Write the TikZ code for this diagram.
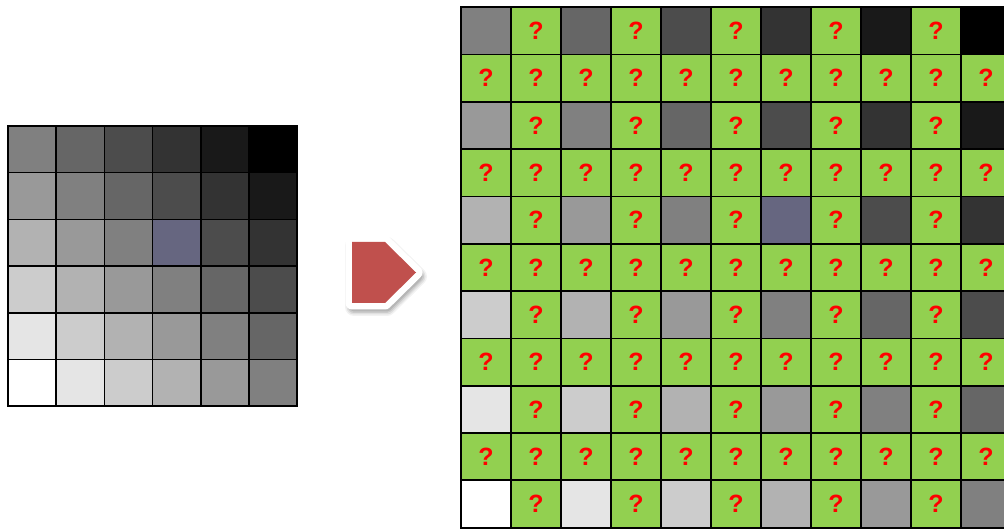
\documentclass[tikz,border=0pt]{standalone}
\usepackage{fontspec}
\setmainfont{Liberation Sans}
\definecolor{cellgreen}{RGB}{146,208,80}
\definecolor{qred}{RGB}{255,0,0}
\definecolor{bluecell}{RGB}{102,102,128}
\definecolor{arrowred}{RGB}{192,80,77}
\tikzset{
  cellL/.style={draw=black, line width=1.6pt, minimum width=48.2pt, minimum height=46.7pt, inner sep=0pt, outer sep=0pt},
  cellR/.style={draw=black, line width=1.8pt, minimum width=50pt, minimum height=47.3pt, inner sep=0pt, outer sep=0pt},
  qcell/.style={cellR, fill=cellgreen, text=qred, font=\bfseries\fontsize{25}{25}\selectfont},
}
\begin{document}
\begin{tikzpicture}[x=1pt,y=-1pt]
\useasboundingbox (0,0) rectangle (1004,529);
\clip (0,0) rectangle (1004,529);
\fill[white] (0,0) rectangle (1004,529);
% left grid
\foreach \r in {0,...,5}{
  \foreach \c in {0,...,5}{
    \pgfmathtruncatemacro\k{50-10*(\r-\c)}
    \ifnum\r=2 \ifnum\c=3
      \node[cellL, fill=bluecell] (L-\r-\c) at ({8+48.2*(\c+0.5)},{126+46.7*(\r+0.5)}) {};
    \else
      \node[cellL, fill=black!\k] (L-\r-\c) at ({8+48.2*(\c+0.5)},{126+46.7*(\r+0.5)}) {};
    \fi\else
      \node[cellL, fill=black!\k] (L-\r-\c) at ({8+48.2*(\c+0.5)},{126+46.7*(\r+0.5)}) {};
    \fi
  }
}
% arrow shape with shadow
\foreach \w/\o in {18/0.05,15/0.07,12/0.09,9/0.1}{
  \fill[black, opacity=\o, line join=round] (354,246) -- (387,246) -- (418,276.5) -- (387,307) -- (354,307) -- cycle;
  \draw[black, opacity=\o, line width=\w pt, line join=round] (354,246) -- (387,246) -- (418,276.5) -- (387,307) -- (354,307) -- cycle;
}
\draw[white, fill=white, line width=13pt, line join=round] (352,242) -- (385,242) -- (416,272.5) -- (385,303) -- (352,303) -- cycle;
\fill[arrowred] (352,242) -- (385,242) -- (416,272.5) -- (385,303) -- (352,303) -- cycle;
% right grid
\foreach \r in {0,...,10}{
  \foreach \c in {0,...,10}{
    \pgfmathtruncatemacro\isodd{mod(\r,2)+mod(\c,2)}
    \ifnum\isodd=0
      \pgfmathtruncatemacro\gr{\r/2}
      \pgfmathtruncatemacro\gc{\c/2}
      \pgfmathtruncatemacro\k{50-10*(\gr-\gc)}
      \ifnum\gr=2 \ifnum\gc=3
        \node[cellR, fill=bluecell] (R-\r-\c) at ({461+50*(\c+0.5)},{7.3+47.3*(\r+0.5)}) {};
      \else
        \node[cellR, fill=black!\k] (R-\r-\c) at ({461+50*(\c+0.5)},{7.3+47.3*(\r+0.5)}) {};
      \fi\else
        \node[cellR, fill=black!\k] (R-\r-\c) at ({461+50*(\c+0.5)},{7.3+47.3*(\r+0.5)}) {};
      \fi
    \else
      \node[qcell] (R-\r-\c) at ({461+50*(\c+0.5)},{7.3+47.3*(\r+0.5)}) {?};
    \fi
  }
}
\end{tikzpicture}
\end{document}
